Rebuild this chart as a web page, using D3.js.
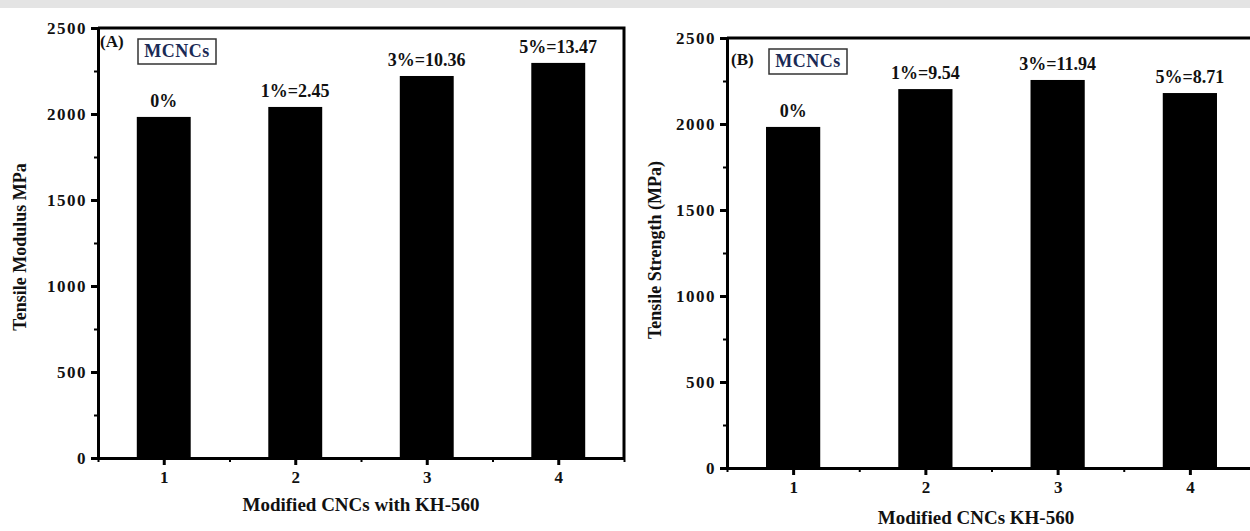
<!DOCTYPE html>
<head>
  <meta charset="utf-8" />
  <script src="https://d3js.org/d3.v7.min.js"></script>
  <style>
    body {
      margin: 0;
      background: #fff;
    }
    svg text {
      font-family: "Liberation Serif", "Times New Roman", serif;
      font-weight: bold;
      fill: #111;
    }
    .axis path, .axis line {
      stroke: #000;
    }
  </style>
</head>

<body>
  <script>
    // donnees
    var categories = [1, 2, 3, 4];
    var modulusValues = [1983, 2041, 2221, 2297];
    var strengthValues = [1983, 2203, 2256, 2180];
    var modulusLabels = ["0%", "1%=2.45", "3%=10.36", "5%=13.47"];
    var strengthLabels = ["0%", "1%=9.54", "3%=11.94", "5%=8.71"];
    var yTicks = [0, 500, 1000, 1500, 2000, 2500];
    var yMinorTicks = [250, 750, 1250, 1750, 2250];
    var xMinorTicks = [0.5, 1.5, 2.5, 3.5, 4.5];

    var width = 1250,
      height = 531;

    var svg = d3
      .select("body")
      .append("svg")
      .attr("width", width)
      .attr("height", height);

    // bande grise en haut
    svg.append("rect")
      .attr("x", 0).attr("y", 0)
      .attr("width", width).attr("height", 8)
      .attr("fill", "#e4e4e4");

    var panels = [
      {
        left: 98, right: 624, top: 28, bottom: 458,
        values: modulusValues, labels: modulusLabels,
        tag: "(A)", tagX: 100, tagY: 47,
        boxX: 138, boxY: 39,
        yTitle: "Tensile Modulus MPa", yTitleX: 26, yTitleY: 247,
        xTitle: "Modified CNCs with KH-560", xTitleX: 361, xTitleY: 511
      },
      {
        left: 727, right: 1256, top: 38, bottom: 468,
        values: strengthValues, labels: strengthLabels,
        tag: "(B)", tagX: 731, tagY: 65,
        boxX: 769, boxY: 49,
        yTitle: "Tensile Strength (MPa)", yTitleX: 661, yTitleY: 250,
        xTitle: "Modified CNCs KH-560", xTitleX: 976, xTitleY: 524
      }
    ];

    panels.forEach(drawPanel);

    function drawPanel(p) {
      var g = svg.append("g");

      var x = d3.scaleLinear().domain([0.5, 4.5]).range([p.left, p.right]);
      var y = d3.scaleLinear().domain([0, 2500]).range([p.bottom, p.top]);
      var barW = x(1.41) - x(1);

      // barres
      g.selectAll(".bar")
        .data(categories)
        .join("rect")
        .attr("class", "bar")
        .attr("x", function (d) { return x(d) - barW / 2; })
        .attr("width", barW)
        .attr("y", function (d, i) { return y(p.values[i]); })
        .attr("height", function (d, i) { return y(0) - y(p.values[i]); })
        .attr("fill", "#000");

      // etiquettes au-dessus des barres
      g.selectAll(".lab")
        .data(categories)
        .join("text")
        .attr("class", "lab")
        .attr("x", function (d) { return x(d); })
        .attr("y", function (d, i) { return y(p.values[i]) - 10; })
        .attr("text-anchor", "middle")
        .style("font-size", "18px")
        .text(function (d, i) { return p.labels[i]; });

      // cadre haut et droit
      g.append("path")
        .attr("d", "M" + p.left + "," + p.top + "H" + p.right + "V" + p.bottom)
        .attr("fill", "none")
        .attr("stroke", "#000")
        .attr("stroke-width", 3);

      // axe y : petites graduations puis grandes
      g.append("g")
        .attr("class", "axis")
        .attr("transform", "translate(" + p.left + ",0)")
        .call(d3.axisLeft(y).tickValues(yMinorTicks).tickSize(4).tickFormat(""))
        .call(function (a) { a.select(".domain").remove(); a.selectAll("line").attr("stroke-width", 2); });

      var yAxis = g.append("g")
        .attr("class", "axis")
        .attr("transform", "translate(" + p.left + ",0)")
        .call(d3.axisLeft(y).tickValues(yTicks).tickSize(7).tickSizeOuter(0).tickPadding(4).tickFormat(d3.format("d")));
      yAxis.select(".domain").attr("stroke-width", 3);
      yAxis.selectAll("line").attr("stroke-width", 3);
      yAxis.selectAll("text")
        .style("font-size", "17px")
        .style("letter-spacing", "1.5px")
        .attr("fill", "#111");

      // axe x
      g.append("g")
        .attr("class", "axis")
        .attr("transform", "translate(0," + p.bottom + ")")
        .call(d3.axisBottom(x).tickValues(xMinorTicks).tickSize(4).tickFormat(""))
        .call(function (a) { a.select(".domain").remove(); a.selectAll("line").attr("stroke-width", 2); });

      var xAxis = g.append("g")
        .attr("class", "axis")
        .attr("transform", "translate(0," + p.bottom + ")")
        .call(d3.axisBottom(x).tickValues(categories).tickSize(7).tickSizeOuter(0).tickPadding(6).tickFormat(d3.format("d")));
      xAxis.select(".domain").attr("stroke-width", 3);
      xAxis.selectAll("line").attr("stroke-width", 3);
      xAxis.selectAll("text")
        .style("font-size", "17px")
        .attr("fill", "#111");

      // (A) / (B)
      g.append("text")
        .attr("x", p.tagX)
        .attr("y", p.tagY)
        .style("font-size", "17px")
        .text(p.tag);

      // boite MCNCs
      g.append("rect")
        .attr("x", p.boxX).attr("y", p.boxY)
        .attr("width", 78).attr("height", 25)
        .attr("fill", "#fff")
        .attr("stroke", "#333")
        .attr("stroke-width", 1.5);
      g.append("text")
        .attr("x", p.boxX + 39)
        .attr("y", p.boxY + 18)
        .attr("text-anchor", "middle")
        .style("font-size", "18px")
        .style("letter-spacing", "0.5px")
        .style("fill", "#1a2a55")
        .text("MCNCs");

      // titres des axes
      g.append("text")
        .attr("transform", "translate(" + p.yTitleX + "," + p.yTitleY + ") rotate(-90)")
        .attr("text-anchor", "middle")
        .style("font-size", "18px")
        .text(p.yTitle);

      g.append("text")
        .attr("x", p.xTitleX)
        .attr("y", p.xTitleY)
        .attr("text-anchor", "middle")
        .style("font-size", "19px")
        .text(p.xTitle);
    }
  </script>
</body>
